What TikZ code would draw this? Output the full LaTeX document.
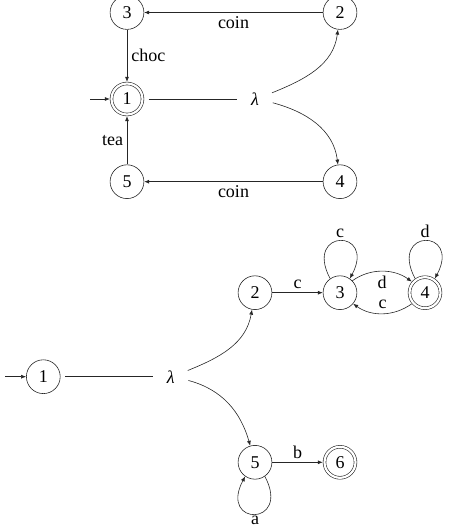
\documentclass[tikz,border=0pt]{standalone}
\usepackage{fontspec}
\setmainfont{Liberation Serif}
\usetikzlibrary{arrows.meta}
\begin{document}
\begin{tikzpicture}[x=1pt,y=1pt,
  every node/.style={font=\fontsize{18}{20}\selectfont},
  st/.style={circle,draw=black!85,line width=0.6pt,minimum size=33.8pt,inner sep=0pt},
  acc/.style={circle,draw=black!85,line width=0.6pt,double,double distance=2.2pt,minimum size=31pt,inner sep=0pt,outer sep=1.7pt},
  lam/.style={circle,minimum size=36pt,inner sep=0pt,font=\fontsize{18}{20}\selectfont\itshape},
  ar/.style={draw=black!85,line width=0.6pt,-{Latex[length=5pt,width=4pt]}},
  ln/.style={draw=black!85,line width=0.6pt,shorten <=4.5pt},
  lbl/.style={inner sep=0pt}
]
\useasboundingbox (0,0) rectangle (456,531);
% top automaton
\node[st] (t3) at (127,518.5) {3};
\node[st] (t2) at (340,518.5) {2};
\node[acc] (t1) at (127,432) {1};
\node[st] (t5) at (127,349.3) {5};
\node[st] (t4) at (340,349.3) {4};
\node[lam] (tl) at (255,432) {λ};
\coordinate (ts) at (90,432);
\draw[ar] (ts) -- (t1);
\draw[ar] (t2) -- node[lbl,anchor=base,yshift=-15.8pt]{coin} (t3);
\draw[ar] (t3) -- node[right,inner sep=4pt]{choc} (t1);
\draw[ar] (t5) -- node[left,inner sep=3.5pt]{tea} (t1);
\draw[ar] (t4) -- node[lbl,anchor=base,yshift=-15.6pt]{coin} (t5);
\draw[ln] (t1) -- (tl);
\draw[ar] (tl.20) to[out=22,in=-97] (t2);
\draw[ar] (tl.-12) to[out=-15,in=97] (t4);
% bottom automaton
\node[st] (b1) at (43.3,154.3) {1};
\node[lam] (bl) at (170.7,154.3) {λ};
\node[st] (b2) at (255,238.3) {2};
\node[st] (b3) at (340,238.3) {3};
\node[acc] (b4) at (425,238.3) {4};
\node[st] (b5) at (255,68.7) {5};
\node[acc] (b6) at (340,68.7) {6};
\coordinate (bs) at (5,154.3);
\draw[ar] (bs) -- (b1);
\draw[ln] (b1) -- (bl);
\draw[ar] (bl.20) to[out=22,in=-100] (b2);
\draw[ar] (bl.-12) to[out=-15,in=106] (b5);
\draw[ar] (b2) -- node[lbl,anchor=base,yshift=4.4pt]{c} (b3);
\draw[ar] (b5) -- node[lbl,anchor=base,yshift=4pt]{b} (b6);
\draw[ar] (b3.44) .. controls +(18,13) and +(-18,13) .. node[lbl,anchor=base,yshift=-17.3pt]{d} (b4.140);
\draw[ar] (b4.-140) .. controls +(-18,-13) and +(18,-13) .. node[lbl,anchor=base,yshift=4.7pt]{c} (b3.-40);
\draw[ar] (b3.125) .. controls +(118:57) and +(62:57) .. node[lbl,anchor=base,yshift=3.5pt]{c} (b3.55);
\draw[ar] (b4.125) .. controls +(118:57) and +(62:57) .. node[lbl,anchor=base,yshift=3pt]{d} (b4.55);
\draw[ar] (b5.-55) .. controls +(-62:57) and +(-118:57) .. node[anchor=north,inner sep=1.5pt]{a} (b5.-125);
\end{tikzpicture}
\end{document}
